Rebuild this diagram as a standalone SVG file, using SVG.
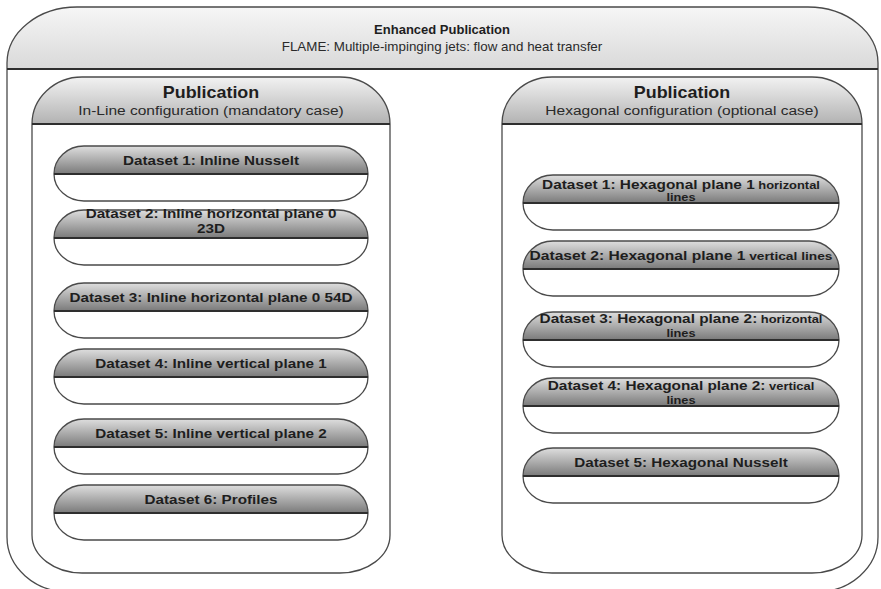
<svg xmlns="http://www.w3.org/2000/svg" xmlns:xlink="http://www.w3.org/1999/xlink" width="881" height="589" viewBox="0 0 881 589">
  <style>
    .outline { fill: none; stroke: #4a4a4a; stroke-width: 1.3; }
    .sep { stroke: #2e2e2e; stroke-width: 2; }
    .body { fill: #ffffff; }
    text { font-family: "Liberation Sans", Arial, sans-serif; fill: #1e1e1e; text-anchor: middle; }
    .t-main { font-size: 13px; font-weight: bold; }
    .t-sub { font-size: 13px; fill: #2a2a2a; }
    .t-pub { font-size: 16px; font-weight: bold; }
    .t-pubsub { font-size: 13.5px; fill: #2a2a2a; }
    .t-ds { font-size: 12.5px; font-weight: bold; }
    .t-sm { font-size: 10.5px; font-weight: bold; }
    .t-sm2 { font-size: 11px; font-weight: bold; }
  </style>
  <defs>
    <linearGradient id="gOuter" x1="0" y1="0" x2="0" y2="1">
      <stop offset="0" stop-color="#f6f6f6"/>
      <stop offset="1" stop-color="#d9d9d9"/>
    </linearGradient>
    <linearGradient id="gPub" x1="0" y1="0" x2="0" y2="1">
      <stop offset="0" stop-color="#f2f2f2"/>
      <stop offset="1" stop-color="#b2b2b2"/>
    </linearGradient>
    <linearGradient id="gPill" x1="0" y1="0" x2="0" y2="1">
      <stop offset="0" stop-color="#dedede"/>
      <stop offset="1" stop-color="#7a7a7a"/>
    </linearGradient>
    <!-- dataset pill: gradient header over white body -->
    <g id="pillL">
      <path fill="url(#gPill)" d="M0,28 A30,28 0 0 1 30,0 H284 A30,28 0 0 1 314,28 Z"/>
      <path class="body" d="M0,28 A30,27 0 0 0 30,55 H284 A30,27 0 0 0 314,28 Z"/>
      <path class="outline" d="M0,28 A30,28 0 0 1 30,0 H284 A30,28 0 0 1 314,28 A30,27 0 0 1 284,55 H30 A30,27 0 0 1 0,28 Z"/>
      <line class="sep" x1="0" y1="28" x2="314" y2="28"/>
    </g>
    <g id="pillR">
      <path fill="url(#gPill)" d="M0,28 A30,28 0 0 1 30,0 H286 A30,28 0 0 1 316,28 Z"/>
      <path class="body" d="M0,28 A30,27 0 0 0 30,55 H286 A30,27 0 0 0 316,28 Z"/>
      <path class="outline" d="M0,28 A30,28 0 0 1 30,0 H286 A30,28 0 0 1 316,28 A30,27 0 0 1 286,55 H30 A30,27 0 0 1 0,28 Z"/>
      <line class="sep" x1="0" y1="28" x2="316" y2="28"/>
    </g>
  </defs>

  <!-- enhanced publication container -->
  <g id="enhanced-publication">
    <path class="body" d="M7,69 V537 A62,55 0 0 0 69,592 H816 A62,55 0 0 0 878,537 V69 Z"/>
    <path fill="url(#gOuter)" d="M7,69 V63 A70,56 0 0 1 77,7 H808 A70,56 0 0 1 878,63 V69 Z"/>
    <path class="outline" d="M7,69 V63 A70,56 0 0 1 77,7 H808 A70,56 0 0 1 878,63 V537 A62,55 0 0 1 816,592 H69 A62,55 0 0 1 7,537 Z"/>
    <line class="sep" x1="7" y1="69" x2="878" y2="69" stroke-width="1.6"/>
    <text class="t-main" transform="translate(442 34) scale(1.0 1)">Enhanced Publication</text>
    <text class="t-sub" transform="translate(442 51) scale(1.03 1)">FLAME: Multiple-impinging jets: flow and heat transfer</text>
  </g>

  <!-- in-line publication -->
  <g id="publication-inline">
    <path class="body" d="M32,124 V535 A50,38 0 0 0 82,573 H340 A50,38 0 0 0 390,535 V124 Z"/>
    <path fill="url(#gPub)" d="M32,124 A50,47 0 0 1 82,77 H340 A50,47 0 0 1 390,124 Z"/>
    <path class="outline" d="M32,124 A50,47 0 0 1 82,77 H340 A50,47 0 0 1 390,124 V535 A50,38 0 0 1 340,573 H82 A50,38 0 0 1 32,535 Z"/>
    <line class="sep" x1="32" y1="124" x2="390" y2="124"/>
    <text class="t-pub" transform="translate(211 98) scale(1.12 1)">Publication</text>
    <text class="t-pubsub" transform="translate(211 115) scale(1.15 1)">In-Line configuration (mandatory case)</text>
  </g>

  <!-- hexagonal publication -->
  <g id="publication-hexagonal">
    <path class="body" d="M502,124 V535 A50,38 0 0 0 552,573 H812 A50,38 0 0 0 862,535 V124 Z"/>
    <path fill="url(#gPub)" d="M502,124 A50,47 0 0 1 552,77 H812 A50,47 0 0 1 862,124 Z"/>
    <path class="outline" d="M502,124 A50,47 0 0 1 552,77 H812 A50,47 0 0 1 862,124 V535 A50,38 0 0 1 812,573 H552 A50,38 0 0 1 502,535 Z"/>
    <line class="sep" x1="502" y1="124" x2="862" y2="124"/>
    <text class="t-pub" transform="translate(682 98) scale(1.12 1)">Publication</text>
    <text class="t-pubsub" transform="translate(682 115) scale(1.15 1)">Hexagonal configuration (optional case)</text>
  </g>

  <!-- in-line datasets -->
  <g id="inline-ds1">
    <use xlink:href="#pillL" x="54" y="146"/>
    <text class="t-ds" transform="translate(211 164.5) scale(1.22 1)">Dataset 1: Inline Nusselt</text>
  </g>
  <g id="inline-ds2">
    <use xlink:href="#pillL" x="54" y="210"/>
    <text class="t-ds" transform="translate(211 218) scale(1.22 1)">Dataset 2: Inline horizontal plane 0</text>
    <text class="t-ds" transform="translate(211 233) scale(1.22 1)">23D</text>
  </g>
  <g id="inline-ds3">
    <use xlink:href="#pillL" x="54" y="283"/>
    <text class="t-ds" transform="translate(211 301.5) scale(1.22 1)">Dataset 3: Inline horizontal plane 0 54D</text>
  </g>
  <g id="inline-ds4">
    <use xlink:href="#pillL" x="54" y="349"/>
    <text class="t-ds" transform="translate(211 367.5) scale(1.22 1)">Dataset 4: Inline vertical plane 1</text>
  </g>
  <g id="inline-ds5">
    <use xlink:href="#pillL" x="54" y="419"/>
    <text class="t-ds" transform="translate(211 437.5) scale(1.22 1)">Dataset 5: Inline vertical plane 2</text>
  </g>
  <g id="inline-ds6">
    <use xlink:href="#pillL" x="54" y="485"/>
    <text class="t-ds" transform="translate(211 503.5) scale(1.22 1)">Dataset 6: Profiles</text>
  </g>

  <!-- hexagonal datasets -->
  <g id="hex-ds1">
    <use xlink:href="#pillR" x="523" y="175"/>
    <text class="t-ds" transform="translate(681 189) scale(1.23 1)">Dataset 1: Hexagonal plane 1<tspan class="t-sm"> horizontal</tspan></text>
    <text class="t-sm" transform="translate(681 201) scale(1.22 1)">lines</text>
  </g>
  <g id="hex-ds2">
    <use xlink:href="#pillR" x="523" y="241"/>
    <text class="t-ds" transform="translate(681 259.5) scale(1.25 1)">Dataset 2: Hexagonal plane 1<tspan class="t-sm2"> vertical lines</tspan></text>
  </g>
  <g id="hex-ds3">
    <use xlink:href="#pillR" x="523" y="312"/>
    <text class="t-ds" transform="translate(681 323) scale(1.23 1)">Dataset 3: Hexagonal plane 2:<tspan class="t-sm"> horizontal</tspan></text>
    <text class="t-sm" transform="translate(681 336.5) scale(1.22 1)">lines</text>
  </g>
  <g id="hex-ds4">
    <use xlink:href="#pillR" x="523" y="378"/>
    <text class="t-ds" transform="translate(681 390) scale(1.23 1)">Dataset 4: Hexagonal plane 2:<tspan class="t-sm"> vertical</tspan></text>
    <text class="t-sm" transform="translate(681 403.5) scale(1.22 1)">lines</text>
  </g>
  <g id="hex-ds5">
    <use xlink:href="#pillR" x="523" y="448"/>
    <text class="t-ds" transform="translate(681 466.5) scale(1.22 1)">Dataset 5: Hexagonal Nusselt</text>
  </g>
</svg>
